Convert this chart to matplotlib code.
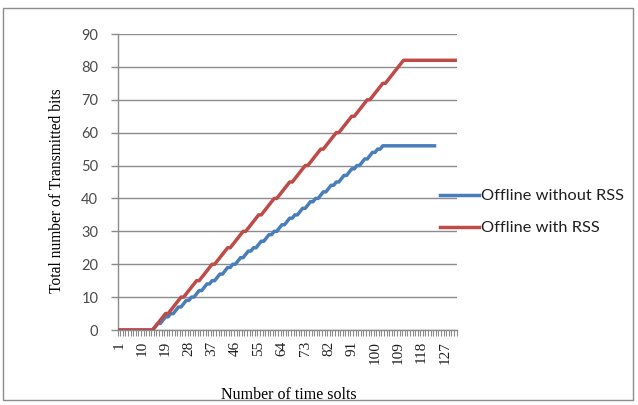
import matplotlib
matplotlib.use("Agg")
import matplotlib.pyplot as plt
from matplotlib.patches import Rectangle
from matplotlib.ticker import FixedLocator, NullFormatter

# ---- data ----
red_values = [
    0, 0, 0, 0, 0, 0, 0, 0, 0, 0, 0, 0, 0, 0,
    1, 2, 3, 4, 5, 5,
    6, 7, 8, 9, 10, 10,
    11, 12, 13, 14, 15, 15,
    16, 17, 18, 19, 20, 20,
    21, 22, 23, 24, 25, 25,
    26, 27, 28, 29, 30, 30,
    31, 32, 33, 34, 35, 35,
    36, 37, 38, 39, 40, 40,
    41, 42, 43, 44, 45, 45,
    46, 47, 48, 49, 50, 50,
    51, 52, 53, 54, 55, 55,
    56, 57, 58, 59, 60, 60,
    61, 62, 63, 64, 65, 65,
    66, 67, 68, 69, 70, 70,
    71, 72, 73, 74, 75, 75,
    76, 77, 78, 79, 80, 81, 82,
    82, 82, 82, 82, 82, 82, 82, 82, 82, 82,
    82, 82, 82, 82, 82, 82, 82, 82, 82, 82,
]
blue_values = [
    0, 0, 0, 0, 0, 0, 0, 0, 0, 0, 0, 0, 0, 0,
    1, 2, 2, 3, 4, 4, 5, 5,
    6, 7, 7, 8, 9, 9, 10, 10,
    11, 12, 12, 13, 14, 14, 15, 15,
    16, 17, 17, 18, 19, 19, 20, 20,
    21, 22, 22, 23, 24, 24, 25, 25,
    26, 27, 27, 28, 29, 29, 30, 30,
    31, 32, 32, 33, 34, 34, 35, 35,
    36, 37, 37, 38, 39, 39, 40, 40,
    41, 42, 42, 43, 44, 44, 45, 45,
    46, 47, 47, 48, 49, 49, 50, 50,
    51, 52, 52, 53, 54, 54, 55, 55,
    56,
    56, 56, 56, 56, 56, 56, 56, 56, 56, 56,
    56, 56, 56, 56, 56, 56, 56, 56, 56, 56,
]
n_categories = 131
x_tick_labels = [1, 10, 19, 28, 37, 46, 55, 64, 73, 82, 91, 100, 109, 118, 127]
y_ticks = [0, 10, 20, 30, 40, 50, 60, 70, 80, 90]
series_names = ["Offline without RSS", "Offline with RSS"]

W, H = 638, 405
fig = plt.figure(figsize=(W / 100, H / 100), dpi=100)
fig.patch.set_facecolor("white")

# outer chart border
fig.add_artist(Rectangle((3 / W, 1 - 400 / H), 630 / W, 392 / H,
                         transform=fig.transFigure, fill=False,
                         edgecolor="#8c8c8c", linewidth=1.0))

left, right, top, bottom = 117.7, 456.5, 34, 330
ax = fig.add_axes([left / W, 1 - bottom / H, (right - left) / W, (bottom - top) / H])

x_blue = list(range(1, len(blue_values) + 1))
x_red = list(range(1, len(red_values) + 1))
ax.plot(x_blue, blue_values, color="#4A7EBB", lw=2.5, label=series_names[0],
        solid_joinstyle="round", zorder=3)
ax.plot(x_red, red_values, color="#BE4B48", lw=2.5, label=series_names[1],
        solid_joinstyle="round", zorder=3)

ax.set_xlim(0.5, n_categories + 0.5)
ax.set_ylim(0, 90)

grid_c = "#8c8c8c"
for s in ["top", "right"]:
    ax.spines[s].set_visible(False)
for s in ["left", "bottom"]:
    ax.spines[s].set_color(grid_c)
    ax.spines[s].set_linewidth(1.0)

ax.set_yticks(y_ticks)
ax.yaxis.grid(True, color=grid_c, linewidth=1.0)
ax.set_axisbelow(True)
ax.tick_params(axis="y", direction="out", length=5, width=1, color=grid_c,
               pad=9, labelsize=10.5, labelcolor="#4a4a4a")
for t in ax.get_yticklabels():
    t.set_fontfamily("Lato")

ax.set_xticks(x_tick_labels)
ax.set_xticklabels([str(v) for v in x_tick_labels], rotation=90,
                   fontfamily="Liberation Serif", fontsize=11, color="#202020")
ax.tick_params(axis="x", which="major", length=0, pad=8)
ax.xaxis.set_minor_locator(FixedLocator([i + 0.5 for i in range(0, n_categories + 1)]))
ax.xaxis.set_minor_formatter(NullFormatter())
ax.tick_params(axis="x", which="minor", direction="out", length=4, width=0.8, color=grid_c)

fig.text(289 / W, 1 - 395 / H, "Number of time solts",
         ha="center", va="center", fontfamily="Liberation Serif", fontsize=11.5,
         color="#000000")
fig.text(57 / W, 1 - 191 / H, "Total number of Transmitted bits", rotation=90,
         ha="center", va="center", fontfamily="Liberation Serif", fontsize=11.2,
         color="#000000")

leg = ax.legend(loc="upper left", bbox_to_anchor=(440 / W, 1 - 189 / H),
                bbox_transform=fig.transFigure, frameon=False, borderpad=0,
                borderaxespad=0, handlelength=2.38, handletextpad=0.15,
                labelspacing=1.07, prop={"family": "Lato", "size": 11.8})
for t in leg.get_texts():
    t.set_color("#202020")

fig.savefig("out.png", dpi=100)
